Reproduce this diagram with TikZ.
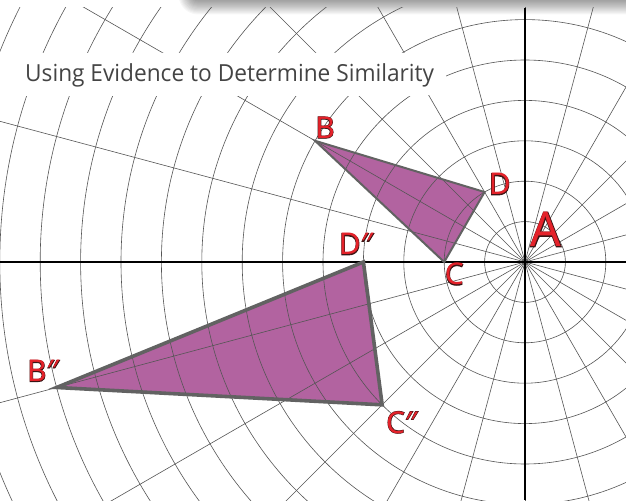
\documentclass[tikz,border=0pt]{standalone}
\usepackage{fontspec}
\usetikzlibrary{calc}
\setmainfont{Open Sans}
\newfontfamily\lblfont{Noto Sans}
\newfontfamily\lbloutfont{Noto Sans}[FakeBold=3]
\definecolor{gridc}{HTML}{555555}
\definecolor{trifill}{RGB}{178,99,160}
\definecolor{tristroke}{HTML}{626262}
\definecolor{lblred}{HTML}{E4222A}
\definecolor{lblout}{HTML}{3A1414}
\definecolor{titlec}{HTML}{444444}
\newcommand\ptlabel[4]{%
  \node[anchor=base, inner sep=0, font=\lbloutfont\fontsize{#3}{#3}\selectfont, text=lblout] at (#2) {#4};
  \node[anchor=base, inner sep=0, font=\lblfont\fontsize{#3}{#3}\selectfont, text=lblred] (#1) at (#2) {#4};}
\begin{document}
\begin{tikzpicture}[x=1pt,y=1pt,
  gridline/.style={gridc, line width=0.6pt},
  axisline/.style={black, line width=1.2pt},
  trifillst/.style={fill=trifill},
  tristrokest/.style={draw=tristroke, line join=miter}]
\useasboundingbox (0,0) rectangle (626,-502);
\fill[white] (0,0) rectangle (626,-502);
\coordinate (A) at (525,-262);
\def\rr{40.4}
% soft shadow at the top
\begin{scope}
\clip (0,0) rectangle (626,-502);
\foreach \i [evaluate=\i as \rc using \i*1.1+3] in {0,...,15}
  \fill[black, opacity=0.032, rounded corners=\rc pt] ({195-\i*1.1},40) rectangle (720,{2-\i*1.1});
\end{scope}
% triangle vertices
\coordinate (B) at ($(A)+(150:6*\rr)$);
\coordinate (C) at ($(A)+(180:2*\rr)$);
\coordinate (D) at ($(A)+(120:2*\rr)$);
\coordinate (B2) at ($(A)+(195:12*\rr)$);
\coordinate (C2) at ($(A)+(225:5*\rr)$);
\coordinate (D2) at ($(A)+(180:4*\rr)$);
\fill[trifillst] (B) -- (D) -- (C) -- cycle;
\fill[trifillst] (B2) -- (D2) -- (C2) -- cycle;
% polar grid
\begin{scope}
\clip (0,-8) rectangle (626,-500);
\foreach \k in {1,...,15} \draw[gridline] (A) circle ({\k*\rr});
\foreach \a in {0,15,...,345} \draw[gridline] (A) -- ++(\a:720);
\coordinate (axL) at (0,-262);
\coordinate (axR) at (626,-262);
\coordinate (axT) at (525,-8);
\coordinate (axB) at (525,-500);
\draw[axisline] (axL) -- (axR);
\draw[axisline] (axT) -- (axB);
\end{scope}
% triangle outlines
\draw[tristrokest, line width=2pt] (B) -- (D) -- (C) -- cycle;
\draw[tristrokest, line width=3.6pt] (B2) -- (D2) -- (C2) -- cycle;
% title band
\fill[white, rounded corners=24pt] (-30,-53) rectangle (446,-96);
\node[anchor=base west, inner sep=0, font=\fontsize{23.5}{23.5}\selectfont, text=titlec] (title) at (25,-82) {\scalebox{0.965}[1]{Using Evidence to Determine Similarity}};
% labels
\ptlabel{lB}{325,-138.3}{30}{B}
\ptlabel{lD}{499.7,-195}{30}{D}
\ptlabel{lC}{454.3,-285}{30}{C}
\ptlabel{lA}{545.7,-246.7}{48}{A}
\ptlabel{lD2}{356,-255}{30}{D″}
\ptlabel{lB2}{43,-381.7}{30}{B″}
\ptlabel{lC2}{401.7,-433}{30}{C″}
\end{tikzpicture}
\end{document}
